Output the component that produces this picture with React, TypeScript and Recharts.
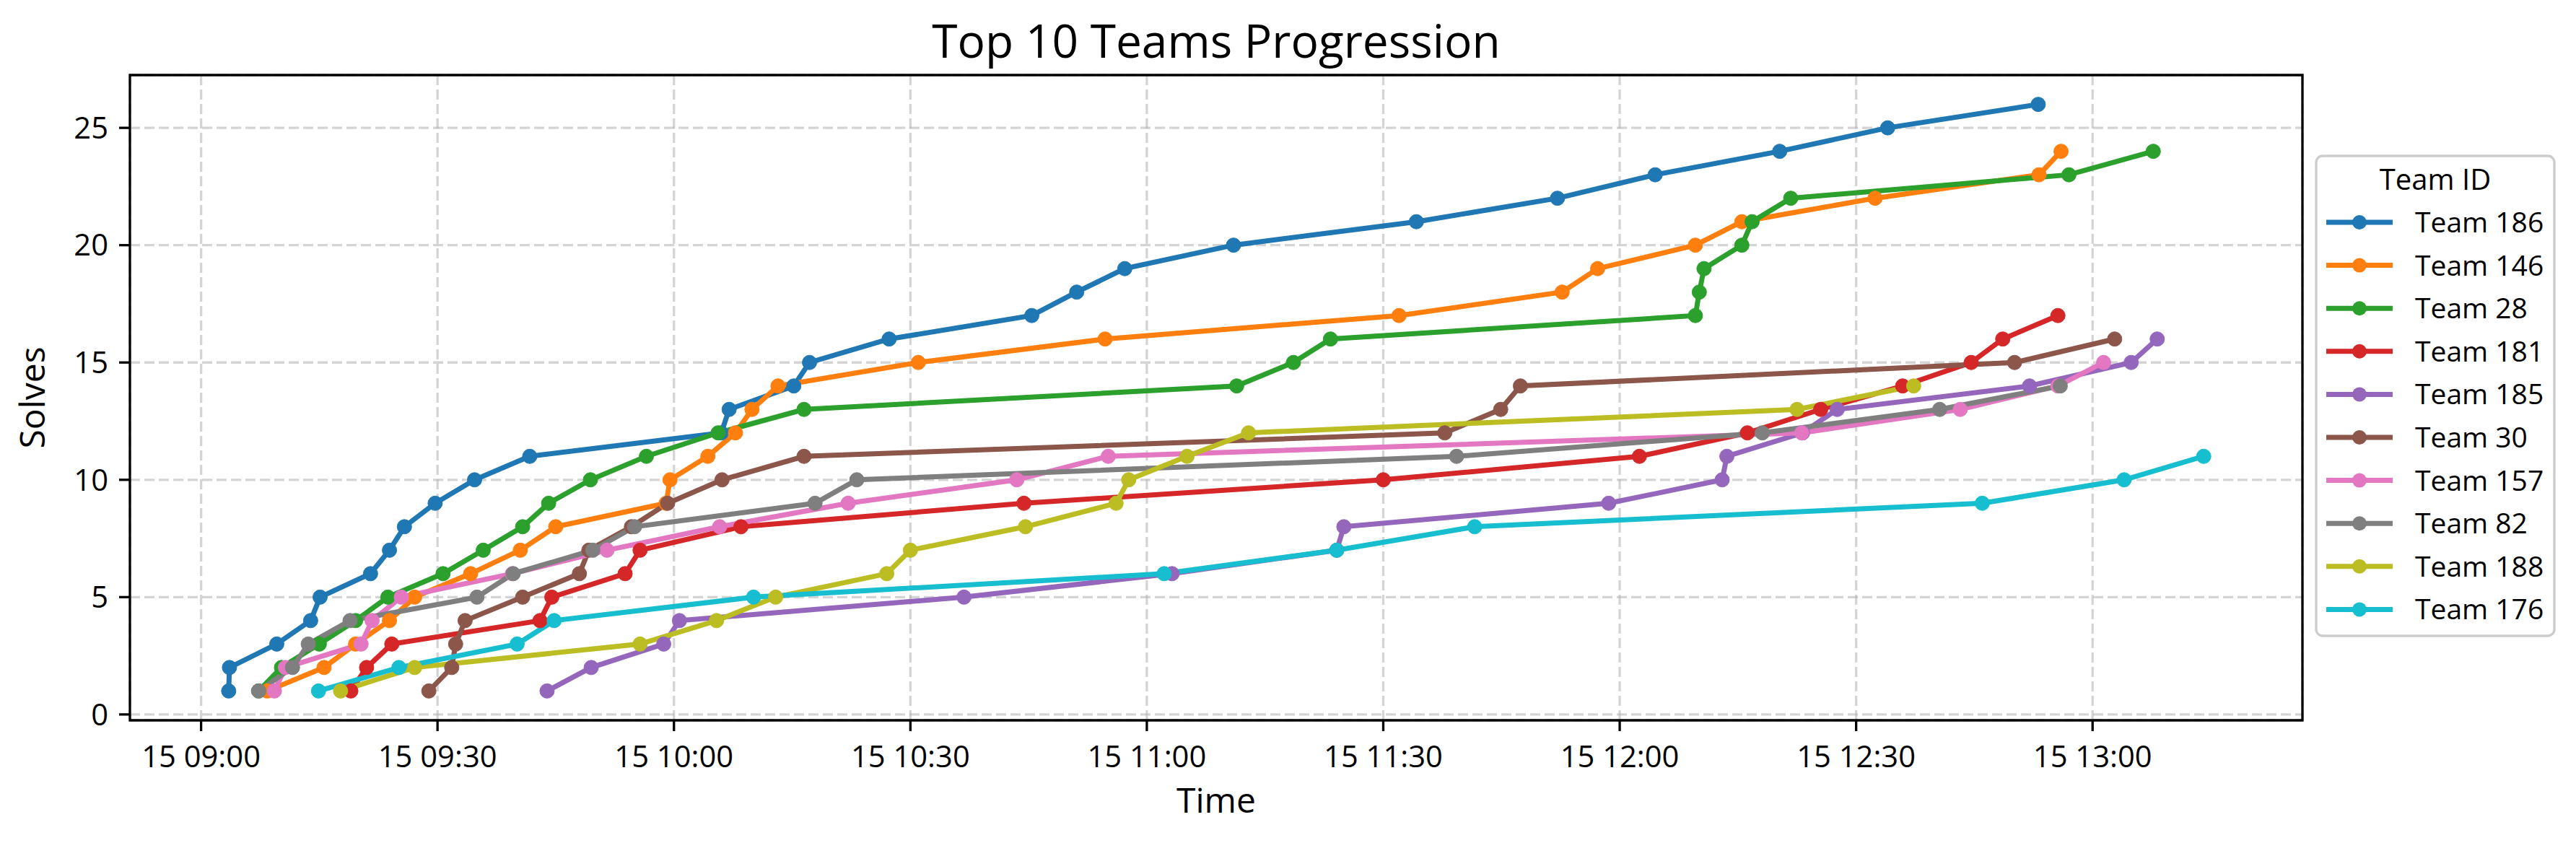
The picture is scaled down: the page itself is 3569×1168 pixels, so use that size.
import { CartesianGrid, Line, LineChart, ReferenceArea, XAxis, YAxis } from "recharts";

// solve times, minutes after 09:00 on the 15th
const times186 = [3.5, 3.6, 9.6, 13.9, 15.1, 21.5, 23.9, 25.8, 29.7, 34.7, 41.7, 66.0, 67.0, 75.2, 77.2, 87.3, 105.4, 111.1, 117.2, 131.0, 154.2, 172.1, 184.5, 200.3, 214.0, 233.1];
const times146 = [8.4, 15.6, 19.6, 23.9, 27.1, 34.2, 40.5, 45.0, 59.0, 59.5, 64.3, 67.8, 69.9, 73.2, 91.0, 114.7, 152.0, 172.7, 177.2, 189.6, 195.5, 212.4, 233.2, 236.0];
const times28 = [7.3, 10.2, 15.0, 19.6, 23.7, 30.7, 35.8, 40.8, 44.1, 49.4, 56.5, 65.6, 76.5, 131.4, 138.6, 143.3, 189.6, 190.1, 190.7, 195.5, 196.8, 201.7, 237.0, 247.7];
const times181 = [19.0, 21.0, 24.2, 43.0, 44.5, 53.8, 55.7, 68.5, 104.4, 150.0, 182.5, 196.2, 205.5, 215.9, 224.6, 228.6, 235.6];
const times185 = [43.9, 49.5, 58.7, 60.7, 96.8, 123.2, 144.1, 145.0, 178.6, 193.0, 193.6, 203.2, 207.6, 232.0, 244.9, 248.2];
const times30 = [28.9, 31.8, 32.3, 33.5, 40.8, 48.0, 49.2, 54.6, 59.2, 66.1, 76.5, 157.8, 164.9, 167.4, 230.1, 242.8];
const times157 = [9.3, 10.7, 20.3, 21.7, 25.4, 39.5, 51.5, 65.8, 82.1, 103.5, 115.1, 203.1, 223.2, 235.6, 241.4];
const times82 = [7.3, 11.6, 13.6, 18.9, 35.0, 39.6, 49.7, 55.0, 77.9, 83.2, 159.3, 198.1, 220.6, 235.9];
const times188 = [17.7, 27.1, 55.7, 65.4, 72.9, 87.0, 90.0, 104.6, 116.1, 117.7, 125.1, 132.9, 202.5, 217.3];
const times176 = [14.9, 25.1, 40.1, 44.8, 70.1, 122.2, 144.1, 161.6, 226.0, 244.0, 254.1];

// cumulative solves at each of those times
const solves186 = [1, 2, 3, 4, 5, 6, 7, 8, 9, 10, 11, 12, 13, 14, 15, 16, 17, 18, 19, 20, 21, 22, 23, 24, 25, 26];
const solves146 = [1, 2, 3, 4, 5, 6, 7, 8, 9, 10, 11, 12, 13, 14, 15, 16, 17, 18, 19, 20, 21, 22, 23, 24];
const solves28 = [1, 2, 3, 4, 5, 6, 7, 8, 9, 10, 11, 12, 13, 14, 15, 16, 17, 18, 19, 20, 21, 22, 23, 24];
const solves181 = [1, 2, 3, 4, 5, 6, 7, 8, 9, 10, 11, 12, 13, 14, 15, 16, 17];
const solves185 = [1, 2, 3, 4, 5, 6, 7, 8, 9, 10, 11, 12, 13, 14, 15, 16];
const solves30 = [1, 2, 3, 4, 5, 6, 7, 8, 9, 10, 11, 12, 13, 14, 15, 16];
const solves157 = [1, 2, 3, 4, 5, 6, 7, 8, 9, 10, 11, 12, 13, 14, 15];
const solves82 = [1, 2, 3, 4, 5, 6, 7, 8, 9, 10, 11, 12, 13, 14];
const solves188 = [1, 2, 3, 4, 5, 6, 7, 8, 9, 10, 11, 12, 13, 14];
const solves176 = [1, 2, 3, 4, 5, 6, 7, 8, 9, 10, 11];

const teamNames = ["Team 186", "Team 146", "Team 28", "Team 181", "Team 185", "Team 30", "Team 157", "Team 82", "Team 188", "Team 176"];
const teamColors = ["#1f77b4", "#ff7f0e", "#2ca02c", "#d62728", "#9467bd", "#8c564b", "#e377c2", "#7f7f7f", "#bcbd22", "#17becf"];

const xTicks = [0, 30, 60, 90, 120, 150, 180, 210, 240];
const xTickLabels = ["15 09:00", "15 09:30", "15 10:00", "15 10:30", "15 11:00", "15 11:30", "15 12:00", "15 12:30", "15 13:00"];
const yTicks = [0, 5, 10, 15, 20, 25];

const allTimes = [times186, times146, times28, times181, times185, times30, times157, times82, times188, times176];
const allSolves = [solves186, solves146, solves28, solves181, solves185, solves30, solves157, solves82, solves188, solves176];

const series = teamNames.map((name, i) => ({
  name,
  color: teamColors[i],
  data: allTimes[i].map((t, k) => ({ t, s: allSolves[i][k] })),
}));

const FONT = "'Open Sans', sans-serif";
const W = 3569;
const H = 1168;
const PLOT = { left: 180, top: 104, right: 3190, bottom: 998 };

// matplotlib-style 5% margins
const flat = allTimes.flat();
const tMin = Math.min(...flat);
const tMax = Math.max(...flat);
const xPad = (tMax - tMin) * 0.05;
const xDomain = [tMin - xPad, tMax + xPad];
const yDomain = [-0.25, 27.25];

const Overlay = () => {
  const cx = (PLOT.left + PLOT.right) / 2;
  const cy = (PLOT.top + PLOT.bottom) / 2;
  const legX = 3209;
  const legY = 216;
  return (
    <svg
      width={W}
      height={H}
      style={{ position: "absolute", left: 0, top: 0, pointerEvents: "none" }}
      fontFamily={FONT}
    >
      <text x={cx} y={80} textAnchor="middle" fontSize={64} fill="#000">
        Top 10 Teams Progression
      </text>
      <text x={cx} y={1126} textAnchor="middle" fontSize={48} fill="#000">
        Time
      </text>
      <text
        x={0}
        y={0}
        transform={`translate(62, ${cy}) rotate(-90)`}
        textAnchor="middle"
        fontSize={48}
        fill="#000"
      >
        Solves
      </text>

      <rect x={legX} y={legY} width={330} height={665} rx={9} fill="#fff" fillOpacity={0.8} stroke="#cccccc" strokeWidth={3.3} />
      <text x={3374} y={263} textAnchor="middle" fontSize={40} fill="#000">
        Team ID
      </text>
      {series.map((s, i) => {
        const y = 308 + i * 59.6;
        return (
          <g key={s.name}>
            <line x1={3223} x2={3315} y1={y} y2={y} stroke={s.color} strokeWidth={7} />
            <circle cx={3269} cy={y} r={10} fill={s.color} />
            <text x={3346} y={y + 14} fontSize={39} fill="#000">
              {s.name}
            </text>
          </g>
        );
      })}
    </svg>
  );
};

export default function App() {
  const tickStyle = { fontSize: 41.7, fill: "#000", fontFamily: FONT };
  return (
    <div style={{ position: "absolute", left: 0, top: 0, width: W, height: H, background: "#fff" }}>
      <LineChart
        width={W}
        height={H}
        margin={{ top: PLOT.top, right: W - PLOT.right, bottom: H - PLOT.bottom - 100, left: 0 }}
      >
        <CartesianGrid stroke="#b0b0b0" strokeOpacity={0.55} strokeWidth={3.3} strokeDasharray="14 6" />
        <XAxis
          type="number"
          dataKey="t"
          domain={xDomain}
          ticks={xTicks}
          interval={0}
          allowDataOverflow
          height={100}
          tickFormatter={(v: number) => xTickLabels[xTicks.indexOf(v)] ?? ""}
          tick={tickStyle}
          tickSize={15}
          tickMargin={20}
          tickLine={{ stroke: "#000", strokeWidth: 3.3 }}
          axisLine={false}
        />
        <YAxis
          type="number"
          domain={yDomain}
          ticks={yTicks}
          interval={0}
          allowDataOverflow
          width={PLOT.left}
          tick={tickStyle}
          tickSize={15}
          tickMargin={15}
          tickLine={{ stroke: "#000", strokeWidth: 3.3 }}
          axisLine={false}
        />
        {series.map((s) => (
          <Line
            key={s.name}
            name={s.name}
            data={s.data}
            dataKey="s"
            type="linear"
            stroke={s.color}
            strokeWidth={7}
            dot={{ r: 10, fill: s.color, stroke: s.color, strokeWidth: 1 }}
            activeDot={false}
            isAnimationActive={false}
          />
        ))}
        <ReferenceArea
          x1={xDomain[0]}
          x2={xDomain[1]}
          y1={yDomain[0]}
          y2={yDomain[1]}
          fill="none"
          stroke="#000"
          strokeWidth={3.3}
          ifOverflow="visible"
        />
      </LineChart>
      <Overlay />
    </div>
  );
}
